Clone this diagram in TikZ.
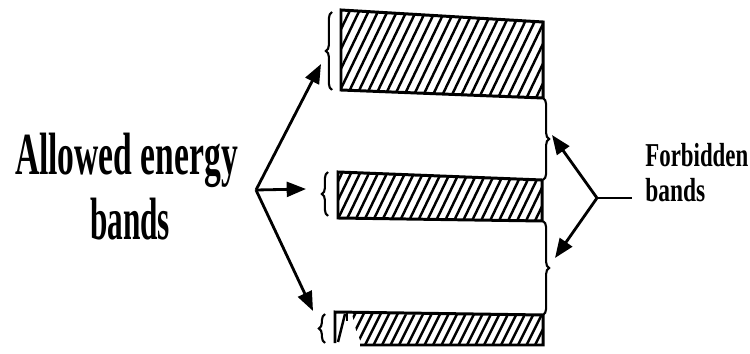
\documentclass[tikz,border=0pt]{standalone}
\usepackage{fontspec}
\setmainfont{Liberation Serif}
\usetikzlibrary{arrows.meta,decorations.pathreplacing}
\begin{document}
\begin{tikzpicture}[x=0.02cm,y=-0.02cm,
  band/.style={line width=1.7pt, line join=miter},
  hatch/.style={line width=1.4pt},
  bracel/.style={line width=1.2pt, decorate, decoration={brace, amplitude=3.5pt}},
  arr/.style={line width=1.6pt, -{Triangle[length=11pt,width=8.5pt]}},
  lbl/.style={inner sep=0pt, anchor=base, font=\bfseries},
]
\useasboundingbox (0,0) rectangle (750,354);

% ---- top allowed band
\begin{scope}
  \clip (341,10) -- (543,22) -- (543,98) -- (341,90) -- cycle;
  \foreach \x in {250,259.5,...,560} \draw[hatch] (\x,100) -- ++(48,-100);
\end{scope}
\draw[band] (341,10) -- (543,22) -- (543,98) -- (341,90) -- cycle;

% ---- middle allowed band
\begin{scope}
  \clip (338,172) -- (542,180) -- (542,221) -- (338,218) -- cycle;
  \foreach \x in {290,299,...,560} \draw[hatch] (\x,225) -- ++(27,-56);
\end{scope}
\draw[band] (338,172) -- (542,180) -- (542,221) -- (338,218) -- cycle;

% ---- bottom allowed band (partly broken at left)
\begin{scope}
  \clip (352,314) -- (543,315) -- (543,345) -- (362,345) -- (356,330) -- cycle;
  \foreach \x in {320,328.5,...,560} \draw[hatch] (\x,350) -- ++(20,-40);
\end{scope}
\draw[band] (335,343) -- (335,312) -- (543,315) -- (543,345) -- (360,345);
\draw[hatch] (338,342) -- (345,314);
\draw[band] (347,313) -- (347,321);

% ---- left braces
\draw[bracel] (332,90) -- (332,12);
\draw[bracel] (328,216) -- (328,172);
\draw[bracel] (325,343) -- (325,314);

% ---- right braces (forbidden bands)
\draw[bracel] (543,98) -- (543,180);
\draw[bracel] (543,221) -- (543,315);

% ---- labels
\node[lbl] (al1) at (126.5,175) {\fontsize{34}{40}\selectfont\resizebox{4.46cm}{\height}{Allowed energy}};
\node[lbl] (al2) at (130,240) {\fontsize{34}{40}\selectfont\resizebox{1.6cm}{\height}{bands}};
\node[lbl, anchor=base west] (fb1) at (645,167) {\fontsize{19}{22}\selectfont\resizebox{2.06cm}{\height}{Forbidden}};
\node[lbl, anchor=base west] (fb2) at (645,202) {\fontsize{19}{22}\selectfont\resizebox{1.2cm}{\height}{bands}};

% ---- arrows for allowed bands
\coordinate (aL) at (256,190);
\coordinate (aT1) at (321,64);
\coordinate (aT2) at (306,189);
\coordinate (aT3) at (313,311);
\draw[arr] (aL) -- (aT1);
\draw[arr] (aL) -- (aT2);
\draw[arr] (aL) -- (aT3);

% ---- arrows for forbidden bands
\coordinate (fR) at (597,198);
\coordinate (fE) at (632,198);
\coordinate (fT1) at (552,135);
\coordinate (fT2) at (555,258);
\draw[line width=1.6pt] (fR) -- (fE);
\draw[arr] (fR) -- (fT1);
\draw[arr] (fR) -- (fT2);
\end{tikzpicture}
\end{document}
